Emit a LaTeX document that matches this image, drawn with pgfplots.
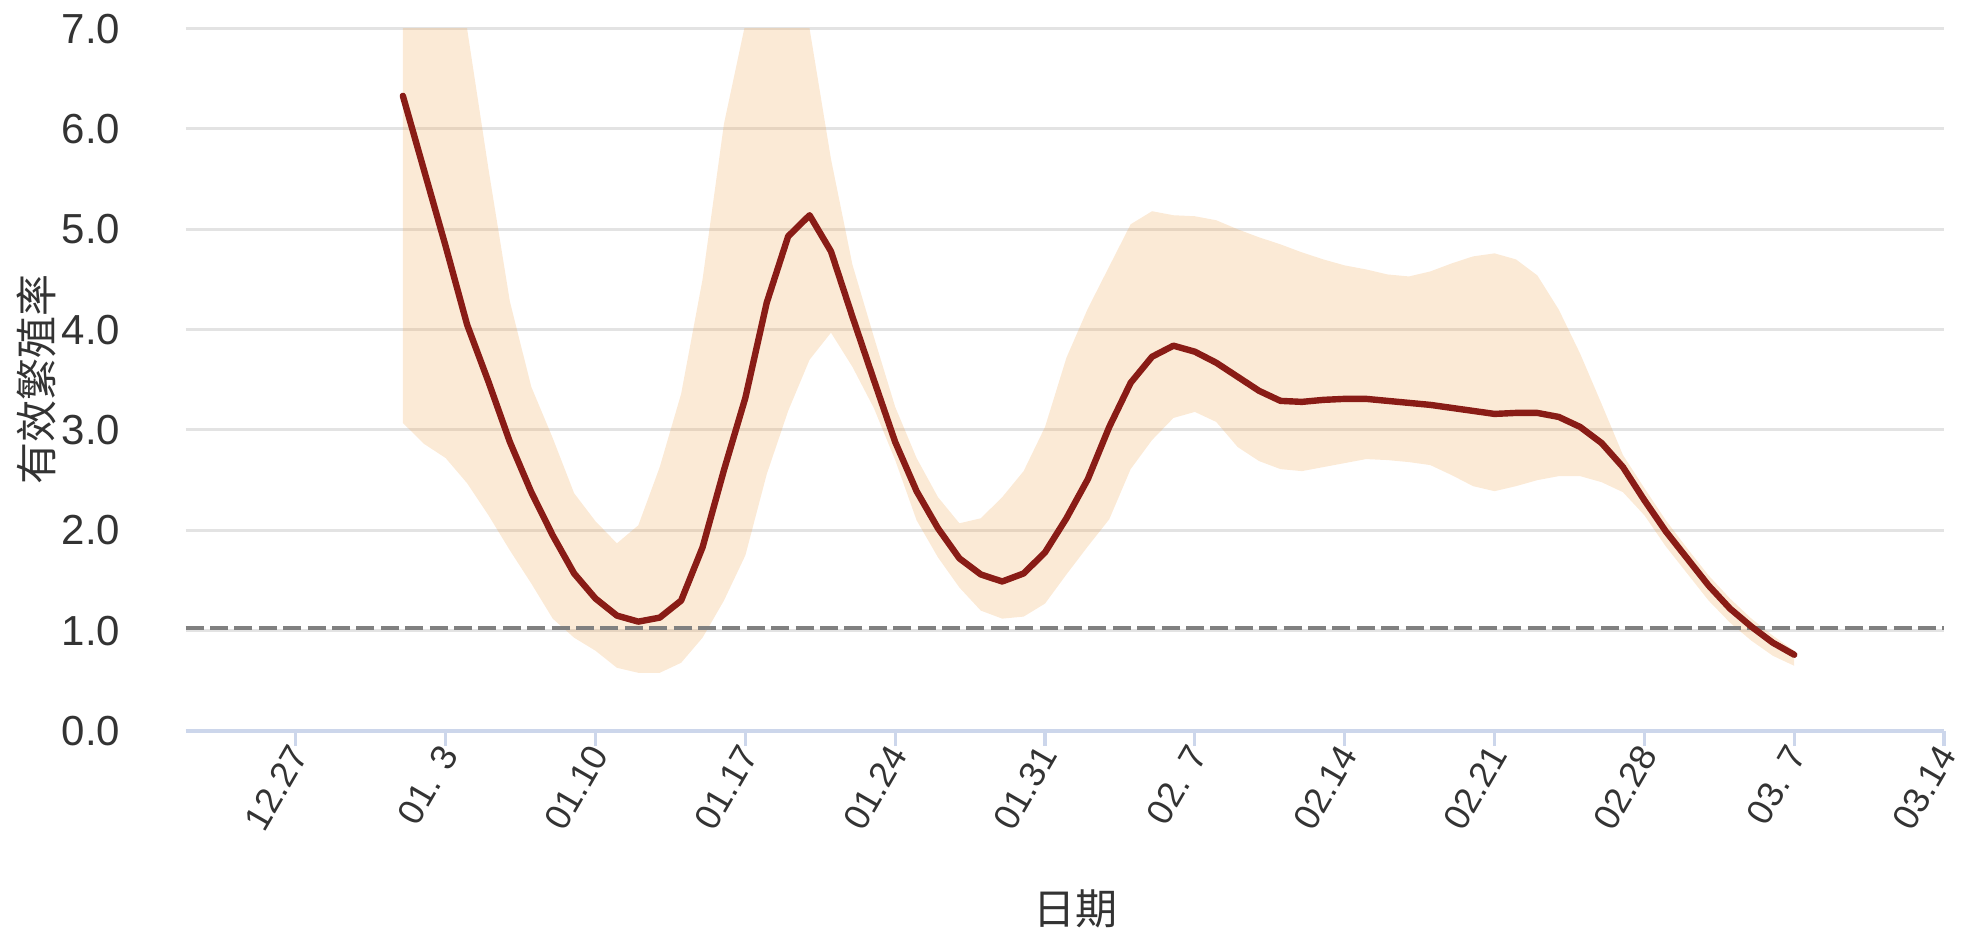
\documentclass[border=0pt]{standalone}
\usepackage{fontspec}
\setmainfont{Liberation Sans}
\newfontfamily\cjk{Noto Sans CJK SC}
\usepackage{pgfplots}
\usepackage{pgfplotstable}
\usepgfplotslibrary{fillbetween}
\pgfplotsset{compat=1.18}

\definecolor{rline}{HTML}{891C16}
\definecolor{bandc}{RGB}{240,170,90}
\definecolor{gridc}{HTML}{E3E3E3}
\definecolor{axisc}{HTML}{CCD6EB}
\definecolor{txt}{HTML}{333333}
\definecolor{dashc}{HTML}{808080}

% day index: 0 = 12.27
\pgfplotstableread{
d  mid   lo    hi
5  6.33  3.07  9.00
6  5.58  2.86  9.00
7  4.83  2.72  8.20
8  4.05  2.47  7.00
9  3.48  2.15  5.60
10 2.88  1.80  4.28
11 2.38  1.47  3.43
12 1.95  1.12  2.92
13 1.57  0.93  2.37
14 1.32  0.80  2.09
15 1.15  0.63  1.87
16 1.09  0.58  2.05
17 1.13  0.58  2.63
18 1.30  0.68  3.36
19 1.83  0.93  4.50
20 2.60  1.30  6.05
21 3.32  1.75  7.05
22 4.27  2.56  7.80
23 4.93  3.19  7.80
24 5.14  3.70  7.00
25 4.78  3.97  5.70
26 4.13  3.63  4.65
27 3.50  3.22  3.93
28 2.88  2.70  3.23
29 2.39  2.10  2.72
30 2.02  1.73  2.33
31 1.72  1.43  2.07
32 1.56  1.20  2.12
33 1.49  1.12  2.33
34 1.57  1.14  2.59
35 1.78  1.27  3.03
36 2.12  1.56  3.72
37 2.51  1.84  4.21
38 3.03  2.11  4.63
39 3.47  2.61  5.05
40 3.73  2.90  5.18
41 3.84  3.12  5.14
42 3.78  3.18  5.13
43 3.67  3.08  5.09
44 3.53  2.83  5.00
45 3.39  2.69  4.92
46 3.29  2.61  4.85
47 3.28  2.59  4.77
48 3.30  2.63  4.70
49 3.31  2.67  4.64
50 3.31  2.71  4.60
51 3.29  2.70  4.55
52 3.27  2.68  4.53
53 3.25  2.65  4.58
54 3.22  2.55  4.66
55 3.19  2.44  4.73
56 3.16  2.39  4.76
57 3.17  2.44  4.70
58 3.17  2.50  4.54
59 3.13  2.54  4.20
60 3.03  2.54  3.76
61 2.87  2.48  3.26
62 2.63  2.38  2.75
63 2.30  2.15  2.42
64 1.99  1.84  2.10
65 1.72  1.57  1.82
66 1.45  1.30  1.55
67 1.22  1.08  1.32
68 1.04  0.90  1.12
69 0.88  0.75  0.95
70 0.76  0.65  0.80
}\rt

\begin{document}
\begin{tikzpicture}
\begin{axis}[
    at={(0,0)}, anchor=south west,
    scale only axis,
    width=439.6pt, height=175.6pt,
    xmin=-5.15, xmax=77,
    ymin=0, ymax=7,
    axis x line*=bottom,
    axis y line*=left,
    y axis line style={draw=none},
    x axis line style={draw=axisc, line width=0.8pt},
    xtick={0,7,...,77},
    xticklabels={12.27,01. 3,01.10,01.17,01.24,01.31,02. 7,02.14,02.21,02.28,03. 7,03.14},
    ytick={0,1,...,7},
    yticklabels={0.0,1.0,2.0,3.0,4.0,5.0,6.0,7.0},
    tick align=outside,
    major tick length=3.75pt,
    xtick style={draw=axisc, line width=0.8pt},
    ytick style={draw=none},
    ymajorgrids,
    grid style={draw=gridc, line width=0.75pt},
    yticklabel style={font=\fontsize{10.5}{12}\selectfont, text=txt, inner sep=0pt, xshift=-12.4pt},
    xticklabel style={font=\fontsize{9}{11}\selectfont, text=txt, inner sep=0pt, anchor=east, rotate=60, yshift=-1pt},
    clip mode=individual,
]
\addplot[draw=none, name path=hi] table[x=d, y=hi] {\rt};
\addplot[draw=none, name path=lo] table[x=d, y=lo] {\rt};
\addplot[fill=bandc, fill opacity=0.25, draw=none] fill between[of=hi and lo];

\addplot[draw=dashc, line width=1pt, dash pattern=on 4.5pt off 1.6pt] coordinates {(-5.15,1.03) (77,1.03)};

\addplot[draw=rline, line width=1.6pt, line join=round, line cap=round] table[x=d, y=mid] {\rt};
\end{axis}
\node[rotate=90, font=\cjk\fontsize{10.5}{12}\selectfont, text=txt] at (-37.4pt,87.8pt) {有效繁殖率};
\node[font=\cjk\fontsize{10.5}{12}\selectfont, text=txt] at (222.5pt,-44.5pt) {日期};
\pgfresetboundingbox
\path (-46.4pt,-50.5pt) rectangle (447.85pt,182.75pt);
\end{tikzpicture}
\end{document}
